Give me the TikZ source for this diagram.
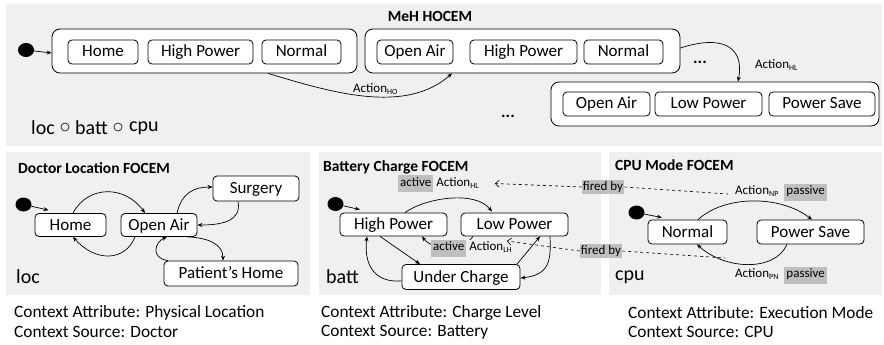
\documentclass[tikz,border=0pt]{standalone}
\usepackage{fontspec}
\setmainfont{Carlito}
\usetikzlibrary{arrows.meta,calc,shapes.geometric}
\definecolor{panelgray}{HTML}{F0F0F0}
\definecolor{hlgray}{HTML}{BFBFBF}
\newcommand\fs[1]{\fontsize{#1}{#1}\selectfont}
\newcommand\act[1]{Action\raisebox{-2pt}{\fs{8}#1}}
\newcommand\hlbox[1]{{\setlength{\fboxsep}{2pt}\colorbox{hlgray}{\strut #1}}}
\begin{document}
\begin{tikzpicture}[x=1pt,y=-1pt,
  state/.style={draw, rounded corners=4pt, line width=0.8pt, fill=white, font=\fs{17}, inner sep=0pt, text height=11pt, text depth=1pt},
  bigstate/.style={draw, rounded corners=8pt, line width=0.8pt, fill=white, inner sep=0pt},
  init/.style={ellipse, fill=black, minimum width=16pt, minimum height=14pt, inner sep=0pt},
  tr/.style={line width=0.7pt, -{Stealth[length=5pt,width=4pt]}},
  fire/.style={dashed, line width=0.6pt, -{Straight Barb[length=4pt,width=7pt]}},
  lab/.style={font=\fs{13}, inner sep=0pt, anchor=west},
  ttl/.style={font=\bfseries\fs{15.5}, inner sep=0pt, anchor=west},
  ctx/.style={font=\fs{17.3}, inner sep=0pt, anchor=west},
  var/.style={font=\fs{20}, inner sep=0pt, anchor=west},
  sep/.style={circle, draw, line width=0.6pt, minimum size=8pt, inner sep=0pt},
  firedby/.style={font=\fs{13}, fill=hlgray, inner sep=1pt, text height=9pt, text depth=3pt},
]
\fill[white] (0,0) rectangle (884,345);
\useasboundingbox (0,0) rectangle (884,345);
\fill[panelgray] (6,4) rectangle (882,146);
\fill[panelgray] (6,152) rectangle (310,295);
\fill[panelgray] (319,152) rectangle (601,295);
\fill[panelgray] (609,152) rectangle (882,295);

% ---------- top: MeH HOCEM ----------
\node[font=\bfseries\fs{15.5}, inner sep=0pt] (title) at (430,16) {MeH HOCEM};
\node[init] (i0) at (26,50) {};
\node[bigstate, minimum width=305pt, minimum height=44pt] (b1) at (204.5,51) {};
\node[state, minimum width=70pt, minimum height=24pt] (b1a) at (103,52) {Home};
\node[state, minimum width=105pt, minimum height=24pt] (b1b) at (200.5,52) {High Power};
\node[state, minimum width=79pt, minimum height=24pt] (b1c) at (301.5,52) {Normal};
\node[bigstate, minimum width=315pt, minimum height=44pt] (b2) at (522.5,51) {};
\node[state, minimum width=76pt, minimum height=24pt] (b2a) at (415,52) {Open Air};
\node[state, minimum width=107pt, minimum height=24pt] (b2b) at (523.5,52) {High Power};
\node[state, minimum width=79pt, minimum height=24pt] (b2c) at (623.5,52) {Normal};
\node[bigstate, minimum width=328pt, minimum height=44pt] (b3) at (715,104) {};
\node[state, minimum width=87pt, minimum height=24pt] (b3a) at (606.5,104) {Open Air};
\node[state, minimum width=107pt, minimum height=24pt] (b3b) at (708.5,104) {Low Power};
\node[state, minimum width=106pt, minimum height=24pt] (b3c) at (822,104) {Power Save};

\draw[tr] (i0) -- ([yshift=-2pt]b1.west);
\draw[tr] ([xshift=63.5pt]b1.south) .. controls (330,92) and (405,115) .. ([xshift=-70.5pt]b2.south);
\node[lab] (aho) at (353,89) {\act{HO}};
\draw[tr] ([yshift=3pt]b2.east) .. controls (720,35) and (745,45) .. ([xshift=23pt]b3.north);
\node[lab] (ahltop) at (755,65) {\act{HL}};
\node[font=\bfseries\fs{17}, inner sep=0pt] (dots1) at (700,62) {...};
\node[font=\bfseries\fs{17}, inner sep=0pt] (dots2) at (508,116) {...};
\node[var] (vloc) at (31,128) {loc};
\node[sep] (o1) at (65,127) {};
\node[var] (vbatt) at (75,128) {batt};
\node[sep] (o2) at (118,127) {};
\node[var] (vcpu) at (129,128) {cpu};

% ---------- panel 1: Doctor Location ----------
\node[ttl] (t1) at (18,168) {Doctor Location FOCEM};
\node[init] (d0) at (23.5,204.5) {};
\node[state, minimum width=71pt, minimum height=23pt] (home) at (70.5,225) {Home};
\node[state, minimum width=76pt, minimum height=23pt] (oa) at (159,225) {Open Air};
\node[state, minimum width=86pt, minimum height=25pt] (surg) at (256,188.5) {Surgery};
\node[state, minimum width=134pt, minimum height=25pt] (ph) at (231,273.5) {Patient’s Home};
\node[var] (v1) at (16,277) {loc};

\draw[tr] (d0) -- ([xshift=-22pt,yshift=3pt]home.north);
\draw[tr] ([xshift=2.5pt]home.north) .. controls (88,185) and (125,185) .. ([xshift=-14pt]oa.north);
\draw[tr] ([xshift=-24pt]oa.south) .. controls (125,262) and (95,262) .. ([xshift=2.5pt]home.south);
\draw[tr] ([xshift=18pt]oa.north) .. controls (182,192) and (195,187) .. ([yshift=1.5pt]surg.west);
\draw[tr] ([xshift=-18pt]surg.south) .. controls (242,222) and (220,225) .. (oa.east);
\draw[tr] ([xshift=29pt]oa.south) .. controls (210,238) and (223,245) .. ([xshift=-8pt]ph.north);
\draw[tr] ([xshift=-63pt]ph.north) .. controls (150,258) and (155,242) .. ([xshift=8pt]oa.south);

\node[ctx] (c1a) at (14,313) {Context Attribute: Physical Location};
\node[ctx] (c1b) at (14,332) {Context Source: Doctor};

% ---------- panel 2: Battery Charge ----------
\node[ttl] (t2) at (323,167) {Battery Charge FOCEM};
\node[init] (bt0) at (335.5,204) {};
\node[state, minimum width=107pt, minimum height=23pt] (hp) at (393.5,224.5) {High Power};
\node[state, minimum width=107pt, minimum height=23pt] (lp) at (514.5,224.5) {Low Power};
\node[state, minimum width=118pt, minimum height=25pt] (uc) at (461,277) {Under Charge};
\node[var] (v2) at (326,277) {batt};

\draw[tr] (bt0) -- ([xshift=-33.5pt,yshift=3pt]hp.north);
\draw[tr] ([xshift=11.5pt]hp.north) .. controls (425,198) and (475,190) .. ([xshift=-22.5pt,yshift=1pt]lp.north);
\node[lab] (ahl) at (398,183.5) {\hlbox{active} \act{HL}};
\draw[tr] ([xshift=-41.5pt]lp.south) .. controls (462,252) and (432,250) .. ([xshift=28.5pt]hp.south);
\node[lab, fill=panelgray] (alh) at (431,248) {\hlbox{active} \act{LH}};
\draw[tr] ([xshift=-13.5pt]hp.south) -- ([xshift=-41pt]uc.north);
\draw[tr] ([yshift=-4pt]uc.west) .. controls (372,283) and (364,262) .. ([xshift=-26.5pt]hp.south);
\draw[tr] ([xshift=56pt]uc.north) -- ([xshift=25.5pt]lp.south);
\draw[tr] ([xshift=35.5pt]lp.south) .. controls (551,260) and (550,275) .. ([yshift=-1pt]uc.east);

\node[ctx] (c2a) at (321,313) {Context Attribute: Charge Level};
\node[ctx] (c2b) at (321,332) {Context Source: Battery};

% ---------- panel 3: CPU Mode ----------
\node[ttl] (t3) at (615,165) {CPU Mode FOCEM};
\node[init] (c0) at (636.5,212.5) {};
\node[state, minimum width=79pt, minimum height=24pt] (nor) at (687.5,232) {Normal};
\node[state, minimum width=107pt, minimum height=24pt] (ps) at (810.5,232) {Power Save};
\node[var] (v3) at (615,277) {cpu};
\draw[tr] (c0) -- ([xshift=-25.5pt,yshift=2pt]nor.north);
\draw[tr] ([xshift=10.5pt]nor.north) .. controls (725,195) and (780,195) .. ([xshift=1.5pt]ps.north);
\draw[tr] ([xshift=-23.5pt]ps.south) .. controls (775,272) and (725,270) .. ([xshift=9.5pt]nor.south);
\node[lab] (anp) at (735,192) {\act{NP}\hspace{6pt}\hlbox{passive}};
\node[lab] (apn) at (735,275) {\act{PN}\hspace{6pt}\hlbox{passive}};

\node[ctx] (c3a) at (628,313) {Context Attribute: Execution Mode};
\node[ctx] (c3b) at (628,332) {Context Source: CPU};

% ---------- fired by ----------
\node[firedby] (f1) at (603,187) {fired by};
\node[firedby] (f2) at (601,251) {fired by};
\draw[fire] (f1.west) -- ([xshift=16pt]ahl.east);
\draw[dashed, line width=0.6pt] (f1.east) -- ([xshift=-7pt,yshift=-2pt]anp.west);
\draw[fire] (f2.west) -- ([xshift=-5pt,yshift=7pt]alh.east);
\draw[dashed, line width=0.6pt] (f2.east) -- ([xshift=-10pt,yshift=17pt]apn.west);
\end{tikzpicture}
\end{document}
